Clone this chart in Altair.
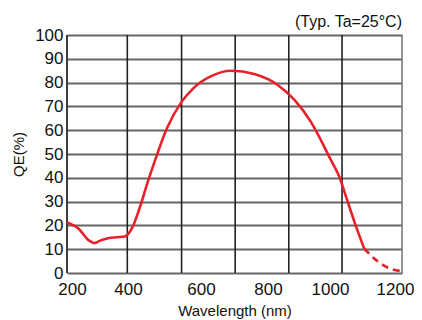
import altair as alt
import pandas as pd

# QE curve (wavelength nm, QE %)
wl_solid = [200, 234, 264, 282, 299, 323, 348, 373, 383, 398, 418, 438, 463,
            498, 542, 577, 630, 690, 759, 829, 879, 928, 988, 1013, 1033, 1058, 1087]
qe_solid = [21.2, 18.7, 13.8, 12.6, 13.6, 14.6, 15.0, 15.3, 16.4, 20.0, 27.8, 36.9, 47.4,
            60.7, 71.9, 77.6, 82.7, 85.0, 83.6, 79.0, 72.7, 63.5, 47.4, 40.4, 32.0, 21.5, 10.3]
wl_dash = [1087, 1117, 1157, 1197]
qe_dash = [10.3, 6.1, 2.3, 0.8]

x_ticks = [200, 400, 600, 800, 1000, 1200]
y_ticks = [0, 10, 20, 30, 40, 50, 60, 70, 80, 90, 100]
grid_x = [200, 380, 542, 702, 862, 1021, 1200]
grid_color = ["#111111", "#222222", "#222222", "#222222", "#222222", "#222222", "#808080"]

FONT = "Liberation Sans"
RED = "#e8202a"

solid_df = pd.DataFrame({"wl": wl_solid, "qe": qe_solid})
dash_df = pd.DataFrame({"wl": wl_dash, "qe": qe_dash})
grid_df = pd.DataFrame({"wl": grid_x, "c": grid_color})

xscale = alt.Scale(domain=[200, 1200], nice=False, zero=False)
yscale = alt.Scale(domain=[0, 100], nice=False)

xaxis = alt.Axis(values=x_ticks, format="d", labelFlush=False, domain=False, ticks=False, grid=False,
                 labelFontSize=17, labelFont=FONT, labelColor="#111", labelPadding=8,
                 labelOffset={"condition": [{"test": "datum.value == 200", "value": 5},
                                            {"test": "datum.value == 400", "value": -6},
                                            {"test": "datum.value == 1000", "value": -5},
                                            {"test": "datum.value == 1200", "value": -7}],
                              "value": 0},
                 title="Wavelength (nm)", titleFont=FONT, titleFontSize=15,
                 titleFontWeight="normal", titleColor="#111", titlePadding=6)
yaxis = alt.Axis(values=y_ticks, format="d", domain=False, ticks=False, grid=True,
                 gridColor="#666666", gridWidth=1.8,
                 labelFontSize=17, labelFont=FONT, labelColor="#111", labelPadding=4,
                 labelFlush=False,
                 title="QE(%)", titleFont=FONT, titleFontSize=15,
                 titleFontWeight="normal", titleColor="#111", titlePadding=8)

vgrid = alt.Chart(grid_df).mark_rule(strokeWidth=1.6).encode(
    x=alt.X("wl:Q", scale=xscale, axis=xaxis),
    color=alt.Color("c:N", scale=None),
)

base_y = alt.Y("qe:Q", scale=yscale, axis=yaxis)

solid = alt.Chart(solid_df).mark_line(color=RED, strokeWidth=2.6, interpolate="monotone").encode(
    x=alt.X("wl:Q", scale=xscale, axis=xaxis),
    y=base_y,
)
dashed = alt.Chart(dash_df).mark_line(color=RED, strokeWidth=2.6, strokeDash=[7, 5],
                                      interpolate="monotone").encode(
    x=alt.X("wl:Q", scale=xscale, axis=xaxis),
    y=base_y,
)

chart = alt.layer(vgrid, solid, dashed).properties(
    width=335, height=238,
    autosize=alt.AutoSizeParams(type="none"),
    padding={"left": 59, "top": 27, "right": 12, "bottom": 47},
    title=alt.TitleParams("(Typ. Ta=25°C)", anchor="end", frame="group", font=FONT, fontSize=16,
                          fontWeight="normal", color="#111", offset=6, dy=10),
).configure_view(stroke=None).configure(background="white")

chart.save("out.html", embed_options={"renderer": "svg", "actions": False})
